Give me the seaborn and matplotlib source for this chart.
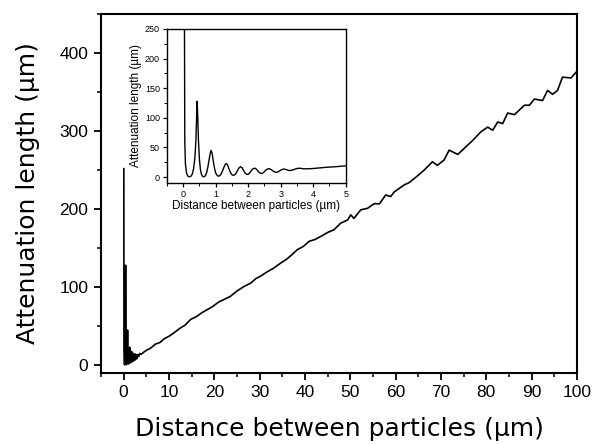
import matplotlib
matplotlib.use("Agg")
import matplotlib.pyplot as plt
from matplotlib.ticker import MultipleLocator
import numpy as np
import pandas as pd
import seaborn as sns

# Attenuation length versus inter-particle distance
# Oscillating region near contact (0-5 um)
near_x = [0.04, 0.05, 0.07, 0.10, 0.13, 0.16, 0.20, 0.24, 0.28, 0.32, 0.36, 0.39,
          0.41, 0.43, 0.45, 0.47, 0.50, 0.53, 0.56, 0.60, 0.64, 0.68, 0.72, 0.76,
          0.80, 0.83, 0.86, 0.89, 0.92, 0.96, 1.00, 1.05, 1.10, 1.15, 1.20, 1.25,
          1.29, 1.32, 1.36, 1.41, 1.46, 1.51, 1.56, 1.61, 1.66, 1.71, 1.76, 1.81,
          1.86, 1.91, 1.96, 2.01, 2.06, 2.11, 2.16, 2.21, 2.26, 2.31, 2.36, 2.41,
          2.46, 2.51, 2.56, 2.61, 2.66, 2.71, 2.77, 2.84, 2.91, 2.98, 3.05, 3.11,
          3.18, 3.26, 3.34, 3.42, 3.50, 3.58, 3.70, 3.85, 4.00, 4.20, 4.40, 4.60,
          4.80, 5.00]
near_y = [252, 60, 22, 8, 3, 1, 0.5, 1.5, 5, 14, 32, 60,
          95, 128, 100, 62, 30, 13, 5, 1, 0.5, 2, 7, 17,
          30, 40, 45, 40, 29, 16, 7, 2.5, 1.5, 3.5, 9, 16,
          21, 23, 21, 14, 7, 3.5, 3, 5, 10, 15, 17.5, 16,
          11, 6.5, 4.5, 5, 8, 12, 14.5, 15, 13, 9.5, 7, 6,
          7, 10, 12.5, 14, 14, 12.5, 10, 8, 8.5, 11, 13, 13.5,
          12.5, 11, 11.5, 13, 14.5, 15, 14, 14, 14.5, 15.5, 16.5, 17.2,
          18, 19]

# Linear growth region (beyond 5 um)
far_x = [6, 7, 8, 9, 10, 11, 12.6, 13.5, 14.8, 16, 17.2, 18.5, 19.6, 21, 22.1,
         23.5, 25, 26.6, 28, 29.2, 30.2, 31.5, 33, 34.7, 36, 37.2, 38.3, 39.6,
         40.9, 42.2, 43.5, 45, 46.4, 47.9, 49.4, 50.1, 50.8, 52.3, 53.8, 55.3,
         56.4, 57.8, 58.9, 59.7, 61.9, 63, 64.5, 66.3, 68.1, 69.2, 70.7, 71.8,
         73.7, 75.1, 77, 78.8, 80.3, 81.4, 82.5, 83.6, 84.7, 86.2, 88.4, 89.5,
         90.6, 92.4, 93.5, 94.6, 95.7, 96.8, 98.7, 99.8]
far_y = [22, 27, 29, 34, 37, 41, 48, 51, 58.7, 62, 67, 71.4, 75, 81, 84,
         88, 95, 101, 105, 111, 114, 119, 124, 131, 136, 142, 148, 152,
         158.6, 161, 165, 170, 173.5, 182, 186, 192.6, 188, 199, 201, 207,
         206.6, 218, 216, 222, 231, 234, 241, 250, 260.6, 256, 263, 275.5,
         270, 277.6, 288, 299, 305, 301, 311.6, 309.5, 323, 321, 333, 333,
         341, 339, 352, 347, 352, 369, 368, 375.5]

df = pd.DataFrame({"distance": near_x + far_x, "attenuation": near_y + far_y})
df_near = pd.DataFrame({"distance": near_x, "attenuation": near_y})

sns.set_style("ticks")
plt.rcParams["font.family"] = ["Liberation Sans", "DejaVu Sans"]

fig = plt.figure(figsize=(5.94, 4.44), dpi=100)
ax = fig.add_axes([0.170, 0.160, 0.8014, 0.8086])
sns.lineplot(data=df, x="distance", y="attenuation", ax=ax, color="black",
             linewidth=1.2, estimator=None, sort=False)
ax.set_xlim(-5, 100)
ax.set_ylim(-10, 450)
ax.xaxis.set_major_locator(MultipleLocator(10))
ax.xaxis.set_minor_locator(MultipleLocator(5))
ax.yaxis.set_major_locator(MultipleLocator(100))
ax.yaxis.set_minor_locator(MultipleLocator(50))
ax.tick_params(which="major", direction="out", length=5, width=1.3,
               labelsize=12.5, color="black", labelcolor="black", pad=4)
ax.tick_params(which="minor", direction="out", length=3, width=1.1, color="black")
ax.set_xlabel("Distance between particles (\u00b5m)", fontsize=18, labelpad=12,
              color="black", family=["DejaVu Sans"])
ax.set_ylabel("Attenuation length (\u00b5m)", fontsize=18, labelpad=14,
              color="black", family=["DejaVu Sans"])
for s in ax.spines.values():
    s.set_linewidth(1.5)
    s.set_color("black")

# Inset: zoom on the oscillating region
axi = fig.add_axes([0.281, 0.5878, 0.301, 0.347])
sns.lineplot(data=df_near, x="distance", y="attenuation", ax=axi, color="black",
             linewidth=1.0, estimator=None, sort=False)
axi.set_xlim(-0.5, 5)
axi.set_ylim(-10, 250)
axi.xaxis.set_major_locator(MultipleLocator(1))
axi.xaxis.set_minor_locator(MultipleLocator(0.5))
axi.yaxis.set_major_locator(MultipleLocator(50))
axi.yaxis.set_minor_locator(MultipleLocator(25))
axi.tick_params(which="major", direction="out", length=3, width=0.9,
                labelsize=6.5, color="black", labelcolor="black", pad=2)
axi.tick_params(which="minor", direction="out", length=2, width=0.7, color="black")
axi.set_xlabel("Distance between particles (\u00b5m)", fontsize=8.5, labelpad=1,
               color="black")
axi.set_ylabel("Attenuation length (\u00b5m)", fontsize=8.5, labelpad=2,
               color="black")
for s in axi.spines.values():
    s.set_linewidth(1.0)
    s.set_color("black")

fig.savefig("out.png", dpi=100)
